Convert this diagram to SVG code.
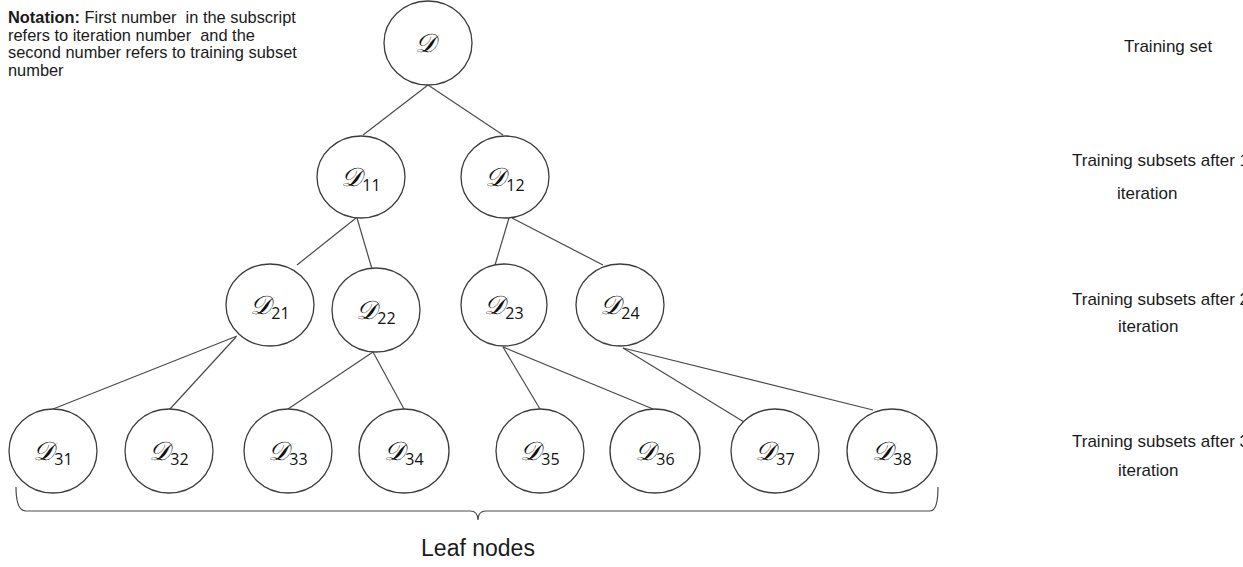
<svg xmlns="http://www.w3.org/2000/svg" width="1243" height="567" viewBox="0 0 1243 567">
  <style>
    .node ellipse { fill: #ffffff; stroke: #3c3c3c; stroke-width: 1.3; }
    .edge { stroke: #4a4a4a; stroke-width: 1.2; fill: none; }
    .sym { font-family: "DejaVu Serif", "Liberation Serif", serif; font-style: italic; font-size: 26px; fill: #111; }
    .sub { font-family: "Open Sans", "Liberation Sans", sans-serif; font-size: 16px; fill: #111; }
    .lbl { font-family: "Liberation Sans", Arial, sans-serif; font-size: 17px; fill: #1a1a1a; }
    .leaf { font-family: "Liberation Sans", Arial, sans-serif; font-size: 23px; fill: #1a1a1a; }
    .note { font-family: "Liberation Sans", Arial, sans-serif; font-size: 16.4px; fill: #1a1a1a; }
  </style>
  <rect width="1243" height="567" fill="#ffffff"/>

  <!-- notation text -->
  <text class="note" xml:space="preserve">
    <tspan x="8" y="23"><tspan font-weight="bold">Notation:</tspan> First number  in the subscript</tspan>
    <tspan x="8" y="40.5">refers to iteration number  and the</tspan>
    <tspan x="8" y="58">second number refers to training subset</tspan>
    <tspan x="8" y="75.5">number</tspan>
  </text>

  <!-- connectors -->
  <g id="edges">
    <line class="edge" x1="428" y1="85" x2="363" y2="135"/>
    <line class="edge" x1="428" y1="85" x2="503" y2="135"/>
    <line class="edge" x1="356" y1="218" x2="297" y2="265"/>
    <line class="edge" x1="357" y1="218" x2="372" y2="269"/>
    <line class="edge" x1="509" y1="218" x2="495" y2="265"/>
    <line class="edge" x1="512" y1="218" x2="603" y2="265"/>
    <line class="edge" x1="237" y1="336" x2="53" y2="409"/>
    <line class="edge" x1="236" y1="337" x2="170" y2="409"/>
    <line class="edge" x1="373" y1="352" x2="288" y2="409"/>
    <line class="edge" x1="373" y1="352" x2="404" y2="409"/>
    <line class="edge" x1="503" y1="347" x2="540" y2="409"/>
    <line class="edge" x1="503" y1="347" x2="653" y2="409"/>
    <line class="edge" x1="623" y1="348" x2="744" y2="422"/>
    <line class="edge" x1="623" y1="348" x2="873" y2="410"/>
  </g>

  <!-- tree nodes -->
  <g id="n0" class="node"><ellipse cx="428" cy="43" rx="44" ry="42"/><text class="sym" x="425" y="52" text-anchor="middle">𝒟</text></g>

  <g id="n11" class="node"><ellipse cx="361" cy="177" rx="44" ry="41"/><text x="361" y="186" text-anchor="middle"><tspan class="sym">𝒟</tspan><tspan class="sub" dy="5">11</tspan></text></g>
  <g id="n12" class="node"><ellipse cx="505" cy="177" rx="44" ry="41"/><text x="505" y="186" text-anchor="middle"><tspan class="sym">𝒟</tspan><tspan class="sub" dy="5">12</tspan></text></g>

  <g id="n21" class="node"><ellipse cx="270" cy="305" rx="44" ry="41"/><text x="270" y="314" text-anchor="middle"><tspan class="sym">𝒟</tspan><tspan class="sub" dy="5">21</tspan></text></g>
  <g id="n22" class="node"><ellipse cx="376" cy="310" rx="44" ry="42"/><text x="376" y="319" text-anchor="middle"><tspan class="sym">𝒟</tspan><tspan class="sub" dy="5">22</tspan></text></g>
  <g id="n23" class="node"><ellipse cx="504" cy="305" rx="43" ry="41"/><text x="504" y="314" text-anchor="middle"><tspan class="sym">𝒟</tspan><tspan class="sub" dy="5">23</tspan></text></g>
  <g id="n24" class="node"><ellipse cx="620" cy="305" rx="44" ry="41"/><text x="620" y="314" text-anchor="middle"><tspan class="sym">𝒟</tspan><tspan class="sub" dy="5">24</tspan></text></g>

  <g id="n31" class="node"><ellipse cx="53" cy="451" rx="44" ry="42"/><text x="53" y="460" text-anchor="middle"><tspan class="sym">𝒟</tspan><tspan class="sub" dy="5">31</tspan></text></g>
  <g id="n32" class="node"><ellipse cx="169" cy="451" rx="44" ry="42"/><text x="169" y="460" text-anchor="middle"><tspan class="sym">𝒟</tspan><tspan class="sub" dy="5">32</tspan></text></g>
  <g id="n33" class="node"><ellipse cx="288" cy="451" rx="44" ry="42"/><text x="288" y="460" text-anchor="middle"><tspan class="sym">𝒟</tspan><tspan class="sub" dy="5">33</tspan></text></g>
  <g id="n34" class="node"><ellipse cx="404" cy="451" rx="45" ry="42"/><text x="404" y="460" text-anchor="middle"><tspan class="sym">𝒟</tspan><tspan class="sub" dy="5">34</tspan></text></g>
  <g id="n35" class="node"><ellipse cx="540" cy="451" rx="44" ry="42"/><text x="540" y="460" text-anchor="middle"><tspan class="sym">𝒟</tspan><tspan class="sub" dy="5">35</tspan></text></g>
  <g id="n36" class="node"><ellipse cx="655" cy="451" rx="45" ry="42"/><text x="655" y="460" text-anchor="middle"><tspan class="sym">𝒟</tspan><tspan class="sub" dy="5">36</tspan></text></g>
  <g id="n37" class="node"><ellipse cx="775" cy="451" rx="44" ry="42"/><text x="775" y="460" text-anchor="middle"><tspan class="sym">𝒟</tspan><tspan class="sub" dy="5">37</tspan></text></g>
  <g id="n38" class="node"><ellipse cx="892" cy="451" rx="45" ry="42"/><text x="892" y="460" text-anchor="middle"><tspan class="sym">𝒟</tspan><tspan class="sub" dy="5">38</tspan></text></g>

  <!-- brace under the leaf level -->
  <path class="edge" d="M16,487 Q16,511 26,511 L470,511 Q478,511 478,520 Q478,511 486,511 L930,511 Q938,511 938,487"/>
  <text class="leaf" x="478" y="556" text-anchor="middle">Leaf nodes</text>

  <!-- level labels -->
  <text class="lbl" x="1124" y="52">Training set</text>
  <text class="lbl" x="1072" y="166">Training subsets after 1</text>
  <text class="lbl" x="1117" y="199">iteration</text>
  <text class="lbl" x="1072" y="305">Training subsets after 2</text>
  <text class="lbl" x="1118" y="332">iteration</text>
  <text class="lbl" x="1072" y="447">Training subsets after 3</text>
  <text class="lbl" x="1118" y="476">iteration</text>
</svg>
